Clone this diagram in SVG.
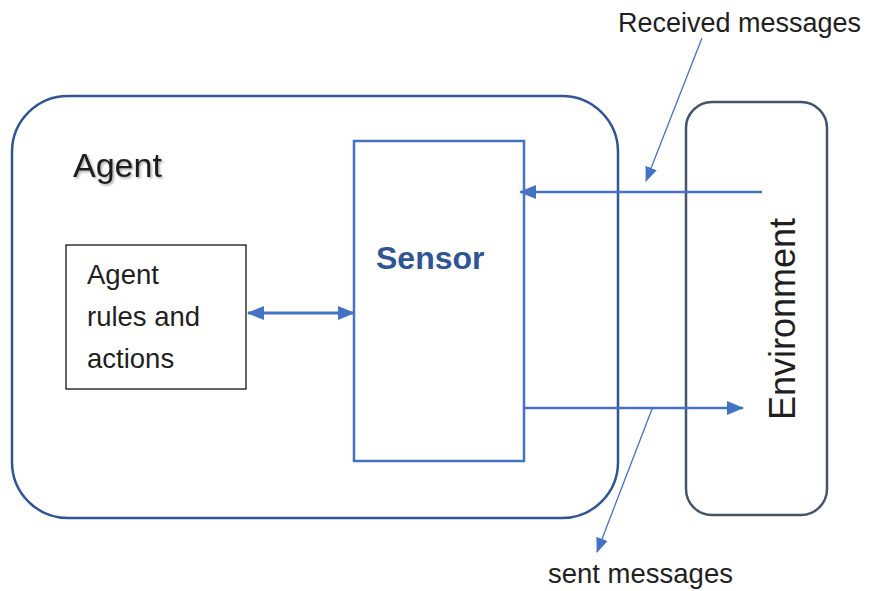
<svg xmlns="http://www.w3.org/2000/svg" width="869" height="591" viewBox="0 0 869 591">
<style>
.txt{font-family:"Liberation Sans",Arial,sans-serif;fill:#1f1f1f}
.conn{stroke:#4472C4;fill:none}
</style>
<defs>
<marker id="ah" markerUnits="userSpaceOnUse" markerWidth="18" markerHeight="16" refX="16" refY="8" orient="auto-start-reverse" viewBox="0 0 18 16">
<path d="M0,1 L17,8 L0,15 Z" fill="#4472C4"/>
</marker>
<marker id="ahs" markerUnits="userSpaceOnUse" markerWidth="18" markerHeight="16" refX="16" refY="8" orient="auto" viewBox="0 0 18 16">
<path d="M0,1 L17,8 L0,15 Z" fill="#4472C4"/>
</marker>
<marker id="ahc" markerUnits="userSpaceOnUse" markerWidth="16" markerHeight="14" refX="14" refY="7" orient="auto" viewBox="0 0 16 14">
<path d="M0,1 L15,7 L0,13 Z" fill="#4472C4"/>
</marker>
<filter id="sh" x="-10%" y="-10%" width="130%" height="140%">
<feDropShadow dx="1.5" dy="1.5" stdDeviation="1" flood-color="#000" flood-opacity="0.35"/>
</filter>
</defs>
<rect width="869" height="591" fill="#fff"/>
<g id="agent">
<rect x="12" y="96" width="606" height="422" rx="56" ry="56" fill="none" stroke="#2F5597" stroke-width="2.5"/>
<text class="txt" x="73" y="177" font-size="34" filter="url(#sh)">Agent</text>
</g>
<g id="rules">
<rect x="66" y="245" width="180" height="144" fill="#fff" stroke="#000" stroke-width="1.2"/>
<text class="txt" font-size="27.5"><tspan x="87" y="284">Agent</tspan><tspan x="87" y="326">rules and</tspan><tspan x="87" y="368">actions</tspan></text>
</g>
<g id="sensor">
<rect x="354" y="141" width="170" height="320" fill="#fff" stroke="#4472C4" stroke-width="2.5"/>
<text x="376" y="269" font-family="'Liberation Sans',Arial,sans-serif" font-weight="bold" font-size="32" fill="#2F5597">Sensor</text>
</g>
<g id="environment">
<rect x="686" y="102" width="141" height="413" rx="26" ry="26" fill="#fff" stroke="#44546A" stroke-width="2.5"/>
<text class="txt" font-size="36" transform="translate(795,420) rotate(-90)" x="0" y="0">Environment</text>
</g>
<g id="connectors">
<line class="conn" x1="762" y1="192" x2="520" y2="192" stroke-width="2.5" marker-end="url(#ahs)"/>
<line class="conn" x1="524" y1="408" x2="743" y2="408" stroke-width="2.5" marker-end="url(#ahs)"/>
<line class="conn" x1="248" y1="313" x2="354" y2="313" stroke-width="3" marker-start="url(#ah)" marker-end="url(#ah)"/>
<line class="conn" x1="702" y1="38" x2="646" y2="181" stroke-width="1.3" marker-end="url(#ahc)"/>
<line class="conn" x1="652" y1="409" x2="597" y2="552" stroke-width="1.3" marker-end="url(#ahc)"/>
</g>
<g id="labels">
<text class="txt" x="618" y="32" font-size="27">Received messages</text>
<text class="txt" x="548" y="583" font-size="27.5">sent messages</text>
</g>
</svg>
